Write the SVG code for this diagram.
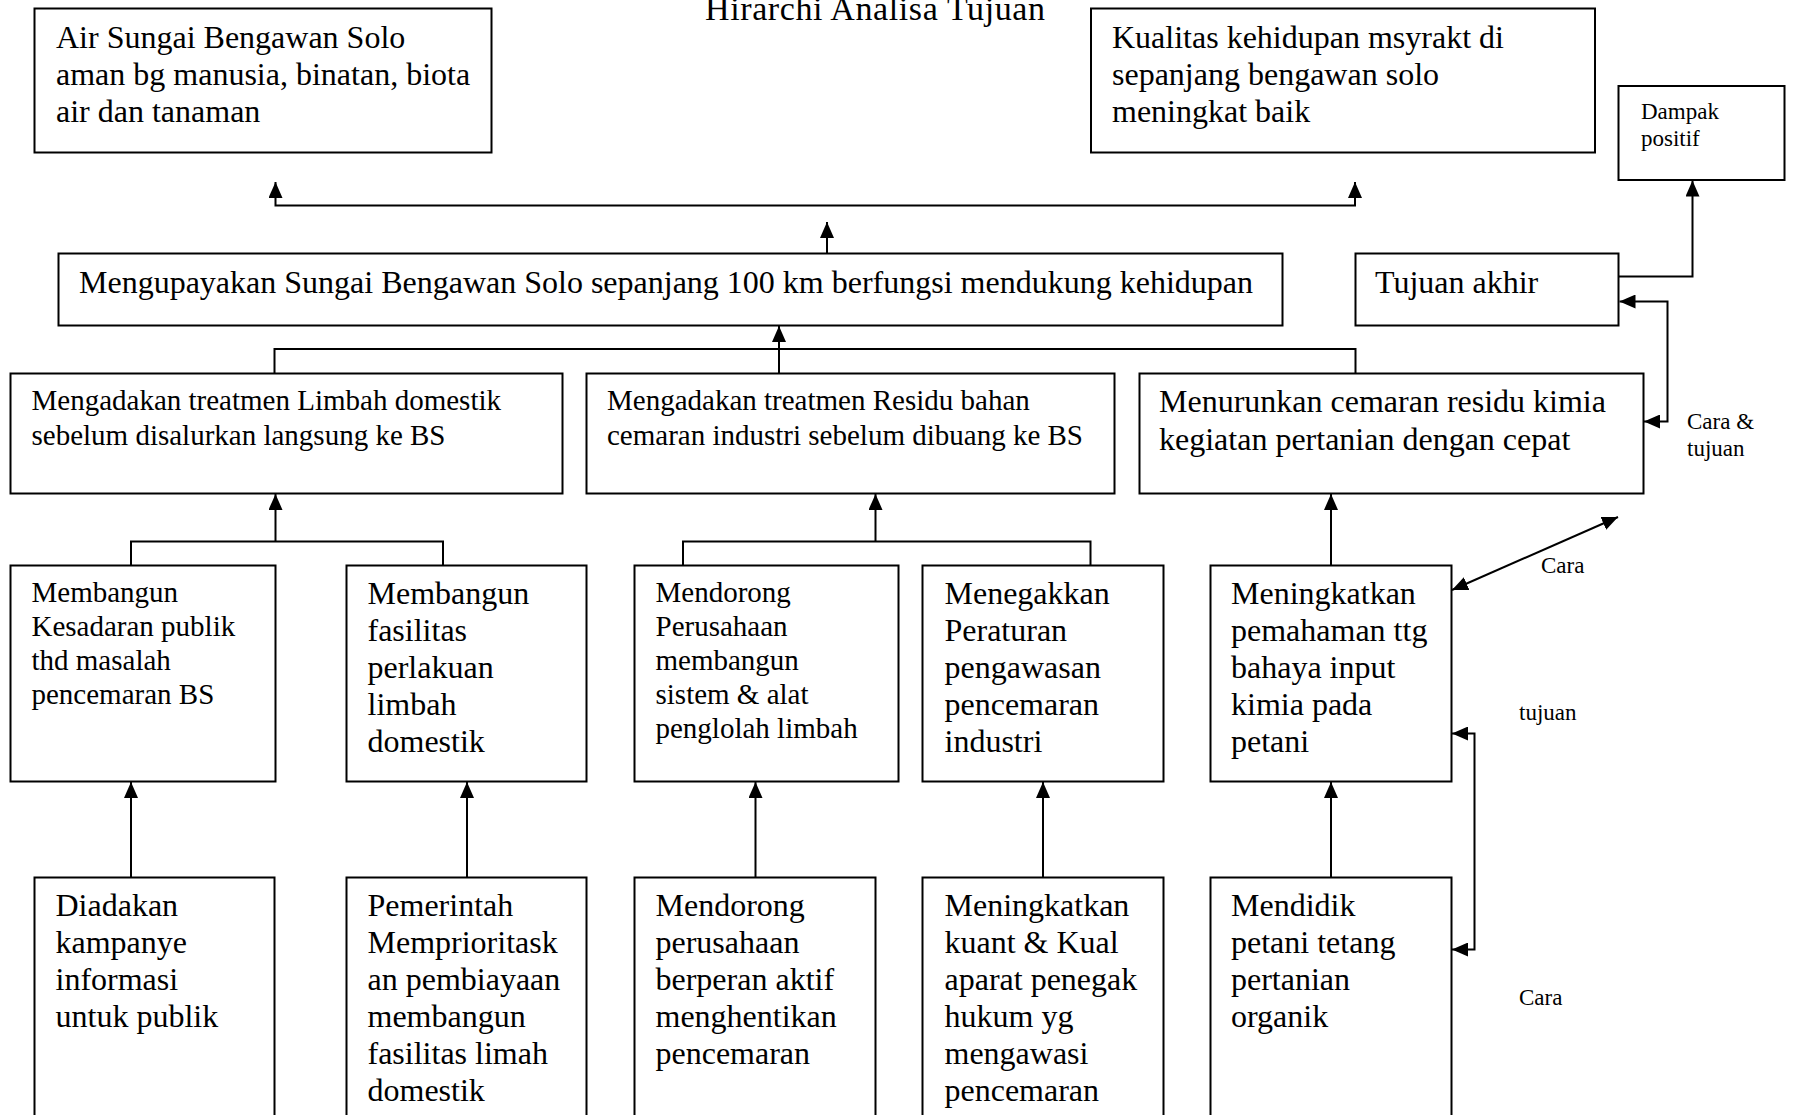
<svg xmlns="http://www.w3.org/2000/svg" width="1798" height="1115" viewBox="0 0 1798 1115">
  <style>
    .box { fill: #ffffff; stroke: #000000; stroke-width: 2; }
    .t32 { font-family: "Liberation Serif", "Times New Roman", serif; font-size: 32px; fill: #000000; }
    .t29 { font-family: "Liberation Serif", "Times New Roman", serif; font-size: 29px; fill: #000000; }
    .t23 { font-family: "Liberation Serif", "Times New Roman", serif; font-size: 23px; fill: #000000; }
    .title { font-family: "Liberation Serif", "Times New Roman", serif; font-size: 34px; fill: #000000; }
    .conn { fill: none; stroke: #000000; stroke-width: 2; }
    .arr { marker-end: url(#ah); }
    .arr2 { marker-start: url(#ah); marker-end: url(#ah); }
  </style>
  <defs>
    <marker id="ah" viewBox="0 0 16 14" refX="16" refY="7" markerWidth="16" markerHeight="14" markerUnits="userSpaceOnUse" orient="auto-start-reverse">
      <path d="M0,0 L16,7 L0,14 z" fill="#000000"/>
    </marker>
  </defs>
  <rect width="1798" height="1115" fill="#ffffff"/>

  <text class="title" x="705" y="20" textLength="340">Hirarchi Analisa Tujuan</text>

  <!-- connectors -->
  <g id="connectors">
    <path class="conn arr" d="M827,253.5 V222"/>
    <path class="conn arr2" d="M275.5,182 V205.5 H1355 V182"/>
    <path class="conn" d="M274.5,373.5 V349 H1355.5 V373.5"/>
    <path class="conn arr" d="M779,373.5 V326"/>
    <path class="conn" d="M131,565.5 V541.5 H443 V565.5"/>
    <path class="conn arr" d="M275.5,541.5 V494"/>
    <path class="conn" d="M683,565.5 V541.5 H1090.5 V565.5"/>
    <path class="conn arr" d="M875.5,541.5 V494"/>
    <path class="conn arr" d="M1331,565.5 V494"/>
    <path class="conn arr" d="M131,877.5 V782"/>
    <path class="conn arr" d="M467,877.5 V782"/>
    <path class="conn arr" d="M755.5,877.5 V782"/>
    <path class="conn arr" d="M1043,877.5 V782"/>
    <path class="conn arr" d="M1331,877.5 V782"/>
    <path class="conn arr" d="M1618.5,276.5 H1692.5 V180.5"/>
    <path class="conn arr2" d="M1619.5,301.5 H1667.5 V421.5 H1644"/>
    <path class="conn arr2" d="M1452,590 L1618,517"/>
    <path class="conn arr2" d="M1452,733.5 H1474.5 V949.5 H1452"/>
  </g>

  <!-- connector labels -->
  <g id="labels">
    <text class="t23" x="1687" y="429">Cara &amp;</text>
    <text class="t23" x="1687" y="456">tujuan</text>
    <text class="t23" x="1541" y="573">Cara</text>
    <text class="t23" x="1519" y="720">tujuan</text>
    <text class="t23" x="1519" y="1005">Cara</text>
  </g>

  <!-- top goals -->
  <g id="goal-air">
    <rect class="box" x="34.5" y="8.5" width="457" height="144"/>
    <text class="t32" x="56" y="48">Air Sungai Bengawan Solo</text>
    <text class="t32" x="56" y="85">aman bg manusia, binatan, biota</text>
    <text class="t32" x="56" y="122">air dan tanaman</text>
  </g>
  <g id="goal-kualitas">
    <rect class="box" x="1091" y="8.5" width="504" height="144"/>
    <text class="t32" x="1112" y="48">Kualitas kehidupan msyrakt di</text>
    <text class="t32" x="1112" y="85">sepanjang bengawan solo</text>
    <text class="t32" x="1112" y="122">meningkat baik</text>
  </g>
  <g id="dampak">
    <rect class="box" x="1618.5" y="86" width="166" height="94"/>
    <text class="t23" x="1641" y="119">Dampak</text>
    <text class="t23" x="1641" y="146">positif</text>
  </g>

  <!-- main objective -->
  <g id="tujuan-utama">
    <rect class="box" x="58.5" y="253.5" width="1224" height="72"/>
    <text class="t32" x="79" y="293">Mengupayakan Sungai Bengawan Solo sepanjang 100 km berfungsi mendukung kehidupan</text>
  </g>
  <g id="tujuan-akhir">
    <rect class="box" x="1355.5" y="253.5" width="263" height="72"/>
    <text class="t32" x="1375" y="293">Tujuan akhir</text>
  </g>

  <!-- second level -->
  <g id="treatmen-limbah">
    <rect class="box" x="10.5" y="373.5" width="552" height="120"/>
    <text class="t29" x="31.5" y="410">Mengadakan treatmen Limbah domestik</text>
    <text class="t29" x="31.5" y="445">sebelum disalurkan langsung ke BS</text>
  </g>
  <g id="treatmen-residu">
    <rect class="box" x="586.5" y="373.5" width="528" height="120"/>
    <text class="t29" x="607" y="410">Mengadakan treatmen Residu bahan</text>
    <text class="t29" x="607" y="445">cemaran industri sebelum dibuang ke BS</text>
  </g>
  <g id="residu-kimia">
    <rect class="box" x="1139.5" y="373.5" width="504" height="120"/>
    <text class="t32" x="1159" y="412">Menurunkan cemaran residu kimia</text>
    <text class="t32" x="1159" y="450">kegiatan pertanian dengan cepat</text>
  </g>

  <!-- third level -->
  <g id="kesadaran-publik">
    <rect class="box" x="10.5" y="565.5" width="265" height="216"/>
    <text class="t29" x="31.5" y="602">Membangun</text>
    <text class="t29" x="31.5" y="636">Kesadaran publik</text>
    <text class="t29" x="31.5" y="670">thd masalah</text>
    <text class="t29" x="31.5" y="704">pencemaran BS</text>
  </g>
  <g id="fasilitas-limbah">
    <rect class="box" x="346.5" y="565.5" width="240" height="216"/>
    <text class="t32" x="367.5" y="604">Membangun</text>
    <text class="t32" x="367.5" y="641">fasilitas</text>
    <text class="t32" x="367.5" y="678">perlakuan</text>
    <text class="t32" x="367.5" y="715">limbah</text>
    <text class="t32" x="367.5" y="752">domestik</text>
  </g>
  <g id="sistem-pengolah">
    <rect class="box" x="634.5" y="565.5" width="264" height="216"/>
    <text class="t29" x="655.5" y="602">Mendorong</text>
    <text class="t29" x="655.5" y="636">Perusahaan</text>
    <text class="t29" x="655.5" y="670">membangun</text>
    <text class="t29" x="655.5" y="704">sistem &amp; alat</text>
    <text class="t29" x="655.5" y="738">penglolah limbah</text>
  </g>
  <g id="peraturan">
    <rect class="box" x="922.5" y="565.5" width="241" height="216"/>
    <text class="t32" x="944.5" y="604">Menegakkan</text>
    <text class="t32" x="944.5" y="641">Peraturan</text>
    <text class="t32" x="944.5" y="678">pengawasan</text>
    <text class="t32" x="944.5" y="715">pencemaran</text>
    <text class="t32" x="944.5" y="752">industri</text>
  </g>
  <g id="pemahaman-petani">
    <rect class="box" x="1210.5" y="565.5" width="241" height="216"/>
    <text class="t32" x="1231" y="604">Meningkatkan</text>
    <text class="t32" x="1231" y="641">pemahaman ttg</text>
    <text class="t32" x="1231" y="678">bahaya input</text>
    <text class="t32" x="1231" y="715">kimia pada</text>
    <text class="t32" x="1231" y="752">petani</text>
  </g>

  <!-- fourth level -->
  <g id="kampanye">
    <rect class="box" x="34.5" y="877.5" width="240" height="260"/>
    <text class="t32" x="55.5" y="916">Diadakan</text>
    <text class="t32" x="55.5" y="953">kampanye</text>
    <text class="t32" x="55.5" y="990">informasi</text>
    <text class="t32" x="55.5" y="1027">untuk publik</text>
  </g>
  <g id="pembiayaan">
    <rect class="box" x="346.5" y="877.5" width="240" height="260"/>
    <text class="t32" x="367.5" y="916">Pemerintah</text>
    <text class="t32" x="367.5" y="953">Memprioritask</text>
    <text class="t32" x="367.5" y="990">an pembiayaan</text>
    <text class="t32" x="367.5" y="1027">membangun</text>
    <text class="t32" x="367.5" y="1064">fasilitas limah</text>
    <text class="t32" x="367.5" y="1101">domestik</text>
  </g>
  <g id="peran-perusahaan">
    <rect class="box" x="634.5" y="877.5" width="241" height="260"/>
    <text class="t32" x="655.5" y="916">Mendorong</text>
    <text class="t32" x="655.5" y="953">perusahaan</text>
    <text class="t32" x="655.5" y="990">berperan aktif</text>
    <text class="t32" x="655.5" y="1027">menghentikan</text>
    <text class="t32" x="655.5" y="1064">pencemaran</text>
  </g>
  <g id="aparat">
    <rect class="box" x="922.5" y="877.5" width="241" height="260"/>
    <text class="t32" x="944.5" y="916">Meningkatkan</text>
    <text class="t32" x="944.5" y="953">kuant &amp; Kual</text>
    <text class="t32" x="944.5" y="990">aparat penegak</text>
    <text class="t32" x="944.5" y="1027">hukum yg</text>
    <text class="t32" x="944.5" y="1064">mengawasi</text>
    <text class="t32" x="944.5" y="1101">pencemaran</text>
  </g>
  <g id="pertanian-organik">
    <rect class="box" x="1210.5" y="877.5" width="241" height="260"/>
    <text class="t32" x="1231" y="916">Mendidik</text>
    <text class="t32" x="1231" y="953">petani tetang</text>
    <text class="t32" x="1231" y="990">pertanian</text>
    <text class="t32" x="1231" y="1027">organik</text>
  </g>
</svg>
